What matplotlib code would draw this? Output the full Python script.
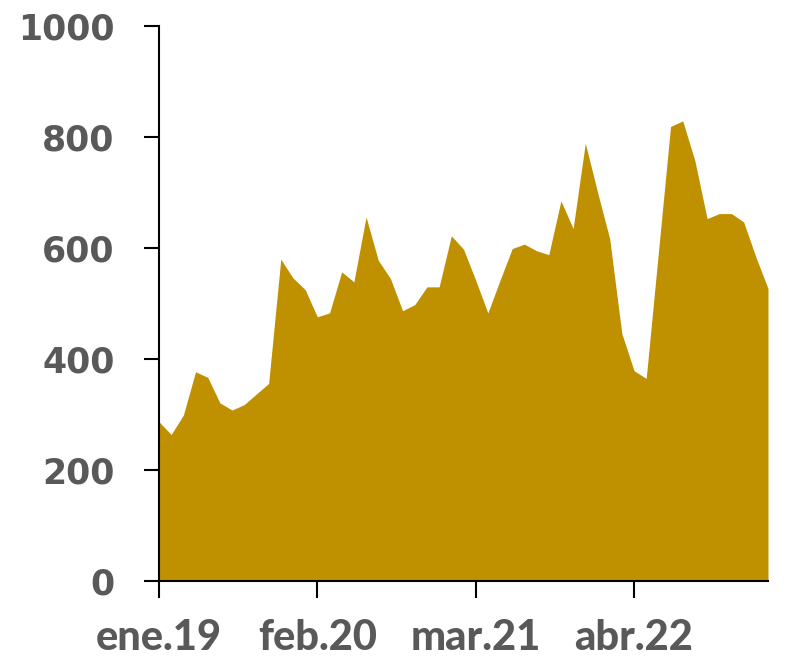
import matplotlib.pyplot as plt
import numpy as np

# datos mensuales ene.19 - mar.23
values = [287, 264, 299, 377, 367, 321, 308, 318, 337, 356,
          580, 546, 525, 476, 483, 557, 539, 656, 578, 545,
          487, 498, 530, 530, 622, 598, 542, 483, 542, 599,
          607, 595, 588, 685, 635, 789, 701, 617, 446, 379,
          365, 592, 819, 829, 757, 653, 662, 662, 647, 584,
          527]
tick_pos = [0, 13, 26, 39]
tick_labels = ["ene.19", "feb.20", "mar.21", "abr.22"]
y_ticks = [0, 200, 400, 600, 800, 1000]

gold = "#BF9000"
grey = "#595959"

fig = plt.figure(figsize=(7.85, 6.61), dpi=100)
ax = fig.add_axes([159/785, 80/661, 609/785, 555/661])

x = np.arange(len(values))
ax.fill_between(x, 0, values, color=gold, linewidth=0)

ax.set_xlim(0, len(values) - 1)
ax.set_ylim(0, 1000)

ax.set_yticks(y_ticks)
ax.set_yticklabels([str(v) for v in y_ticks], fontsize=25, fontweight='bold',
                   color=grey, family='DejaVu Sans')
ax.set_xticks(tick_pos)
ax.set_xticklabels(tick_labels, fontsize=30, fontweight='black', color=grey,
                   family='Lato')

ax.tick_params(axis='y', length=11, width=1.5, pad=21, direction='out')
ax.tick_params(axis='x', length=12, width=1.5, pad=15, direction='out')

for s in ['top', 'right']:
    ax.spines[s].set_visible(False)
ax.spines['left'].set_linewidth(1.5)
ax.spines['bottom'].set_linewidth(1.5)

fig.savefig("out.png", dpi=100)
